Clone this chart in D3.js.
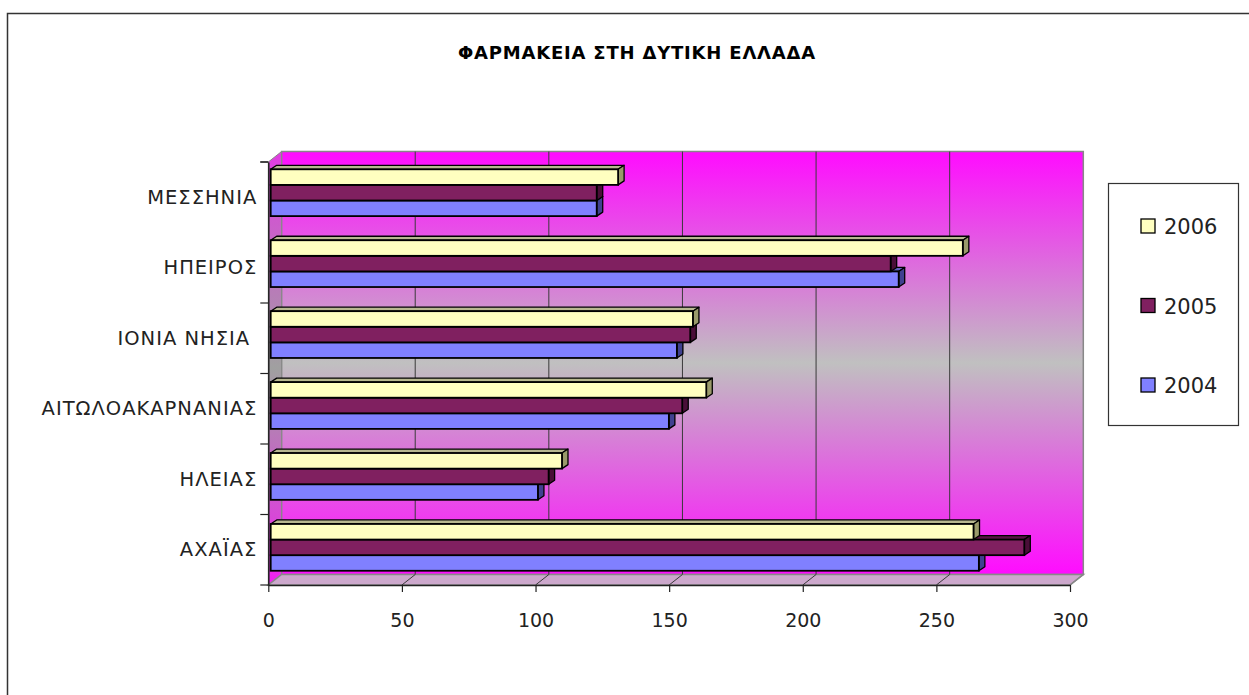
<!DOCTYPE html>
<html><head><meta charset="utf-8">
<script src="https://cdn.jsdelivr.net/npm/d3@7"></script>
<style>
html,body{margin:0;padding:0;background:#fff;}
svg{display:block;}
text{font-family:"DejaVu Sans","Noto Sans",sans-serif;}
</style></head>
<body>
<svg id="chart" width="1249" height="695"></svg>
<script>
const title = "ΦΑΡΜΑΚΕΙΑ ΣΤΗ ΔΥΤΙΚΗ ΕΛΛΑΔΑ";
const categories = ["ΑΧΑΪΑΣ","ΗΛΕΙΑΣ","ΑΙΤΩΛΟΑΚΑΡΝΑΝΙΑΣ","ΙΟΝΙΑ ΝΗΣΙΑ ","ΗΠΕΙΡΟΣ","ΜΕΣΣΗΝΙΑ"];
const seriesNames = ["2006","2005","2004"];
const values2004 = [265,100,149,152,235,122];
const values2005 = [282,104,154,157,232,122];
const values2006 = [263,109,163,158,259,130];
const xTicks = [0,50,100,150,200,250,300];
const colors = {"2006":"#FFFFC0","2005":"#802060","2004":"#8080FF"};
const tops   = {"2006":"#B8B890","2005":"#5A1444","2004":"#6060C0"};
const sides  = {"2006":"#9A9A6A","2005":"#4A0E38","2004":"#404090"};
const seriesValues = {"2004":values2004,"2005":values2005,"2006":values2006};

const svg = d3.select("#chart");
const defs = svg.append("defs");

// layout
const X0 = 268.3, X1 = 1070, YB = 585, YT = 162;
const DX = 13.3, DY = -10.5;   // wall depth
const bx = 6, by = -4;         // bar depth

const x = d3.scaleLinear().domain([0,300]).range([X0, X1]);
const xBar = d3.scaleLinear().domain([0,300]).range([X0+2.4, X1+2.4]);
const yAxis = d3.scaleBand().domain(categories).range([YB, YT]);
const yGroup = d3.scaleBand().domain(categories).range([594.9, 169.3]);
const ySub = d3.scaleBand().domain(seriesNames).range([0, 46.8]);

// outer border
svg.append("rect").attr("x",7.5).attr("y",13.5).attr("width",1260).attr("height",700)
  .attr("fill","none").attr("stroke","#333").attr("stroke-width",1.5);

// gradients
const g1 = defs.append("linearGradient").attr("id","wall").attr("x1",0).attr("y1",0).attr("x2",0).attr("y2",1);
g1.append("stop").attr("offset","0%").attr("stop-color","#FF0CFF");
g1.append("stop").attr("offset","50%").attr("stop-color","#C0C0C0");
g1.append("stop").attr("offset","100%").attr("stop-color","#FF0CFF");
const g2 = defs.append("linearGradient").attr("id","lwall").attr("x1",0).attr("y1",0).attr("x2",0).attr("y2",1);
g2.append("stop").attr("offset","0%").attr("stop-color","#E23CE2");
g2.append("stop").attr("offset","50%").attr("stop-color","#A0A0A0");
g2.append("stop").attr("offset","100%").attr("stop-color","#F020F0");

// back wall
svg.append("rect").attr("x",X0+DX).attr("y",YT+DY).attr("width",X1-X0).attr("height",YB-YT)
  .attr("fill","url(#wall)").attr("stroke","#888").attr("stroke-width",1.5);
// left wall
svg.append("path").attr("d",`M${X0},${YB} L${X0+DX},${YB+DY} L${X0+DX},${YT+DY} L${X0},${YT} Z`)
  .attr("fill","url(#lwall)").attr("stroke","#888").attr("stroke-width",1);
// floor
svg.append("path").attr("d",`M${X0},${YB} L${X1},${YB} L${X1+DX},${YB+DY} L${X0+DX},${YB+DY} Z`)
  .attr("fill","#CCA8CC").attr("stroke","#888").attr("stroke-width",1.5);

// gridlines
xTicks.filter(t=>t>0 && t<300).forEach(t=>{
  svg.append("line").attr("x1",x(t)+DX).attr("x2",x(t)+DX).attr("y1",YT+DY).attr("y2",YB+DY)
    .attr("stroke","#3a3a3a").attr("stroke-width",1);
  svg.append("line").attr("x1",x(t)).attr("x2",x(t)+DX).attr("y1",YB).attr("y2",YB+DY)
    .attr("stroke","#3a3a3a").attr("stroke-width",1);
});
svg.append("line").attr("x1",x(300)).attr("x2",x(300)+DX).attr("y1",YB).attr("y2",YB+DY)
  .attr("stroke","#888").attr("stroke-width",1.5);

// axes
const xAxisG = svg.append("g").attr("transform",`translate(0,${YB})`)
  .call(d3.axisBottom(x).tickValues(xTicks).tickSize(7).tickPadding(22).tickSizeOuter(0));
xAxisG.select(".domain").attr("stroke","#222").attr("stroke-width",1.5);
xAxisG.selectAll(".tick line").attr("stroke","#222").attr("stroke-width",1.2);
xAxisG.selectAll("text").attr("font-size","19px").attr("fill","#222")
  .style("font-family","'DejaVu Sans',sans-serif");

const yAxisG = svg.append("g").attr("transform",`translate(${X0},0)`)
  .call(d3.axisLeft(yAxis).tickSize(0).tickPadding(11));
yAxisG.select(".domain").attr("stroke","#222").attr("stroke-width",1.5);
yAxisG.selectAll("text").attr("font-size","19.5px").attr("fill","#222")
  .attr("letter-spacing","1px").style("white-space","pre");
// boundary ticks
const bounds = categories.map(c=>yAxis(c)).concat([YT]);
svg.append("g").selectAll("line").data(bounds).join("line")
  .attr("x1",X0-8).attr("x2",X0).attr("y1",d=>d+ (d===YT?0:yAxis.bandwidth())).attr("y2",d=>d+(d===YT?0:yAxis.bandwidth()))
  .attr("stroke","#222").attr("stroke-width",1.2);

// bars
const rows = [];
categories.forEach((c,i)=>{
  ["2004","2005","2006"].forEach(s=>rows.push({c, s, v: seriesValues[s][i]}));
});
const barG = svg.append("g");
rows.forEach(d=>{
  const y0 = yGroup(d.c) + ySub(d.s);
  const h = ySub.bandwidth();
  const xa = xBar(0), xb = xBar(d.v);
  const g = barG.append("g");
  g.append("path").attr("d",`M${xa},${y0} L${xa+bx},${y0+by} L${xb+bx},${y0+by} L${xb},${y0} Z`)
    .attr("fill",tops[d.s]).attr("stroke","#000").attr("stroke-width",1.3).attr("stroke-linejoin","round");
  g.append("path").attr("d",`M${xb},${y0} L${xb+bx},${y0+by} L${xb+bx},${y0+h+by} L${xb},${y0+h} Z`)
    .attr("fill",sides[d.s]).attr("stroke","#000").attr("stroke-width",1.3).attr("stroke-linejoin","round");
  g.append("rect").attr("x",xa).attr("y",y0).attr("width",xb-xa).attr("height",h)
    .attr("fill",colors[d.s]).attr("stroke","#000").attr("stroke-width",1.8);
});

// title
svg.append("text").attr("x",637).attr("y",59).attr("text-anchor","middle")
  .attr("font-size","18px").attr("font-weight","bold").attr("letter-spacing","0.8px")
  .attr("fill","#000").text(title);

// legend
const lg = svg.append("g");
lg.append("rect").attr("x",1108.5).attr("y",183.5).attr("width",130).attr("height",242)
  .attr("fill","#fff").attr("stroke","#333").attr("stroke-width",1.2);
const legY = d3.scalePoint().domain(seriesNames).range([226, 385]);
seriesNames.forEach(s=>{
  lg.append("rect").attr("x",1141).attr("y",legY(s)-7).attr("width",14).attr("height",14)
    .attr("fill",colors[s]).attr("stroke","#000").attr("stroke-width",1.3);
  lg.append("text").attr("x",1164).attr("y",legY(s)+8).attr("font-size","21px").attr("fill","#222").text(s);
});
</script>
</body></html>
